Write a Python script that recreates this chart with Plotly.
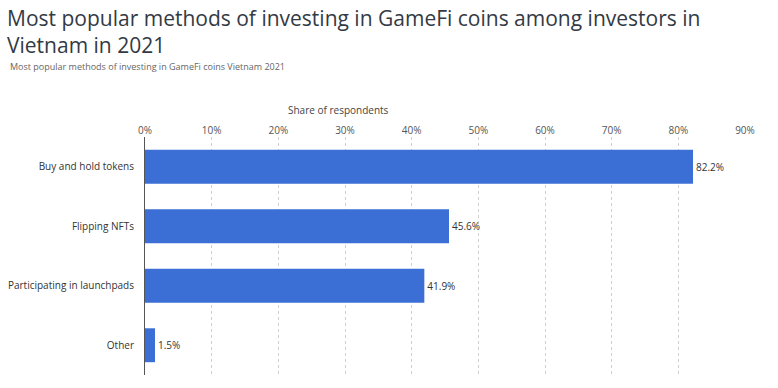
import plotly.graph_objects as go

categories = ["Buy and hold tokens", "Flipping NFTs", "Participating in launchpads", "Other"]
values = [82.2, 45.6, 41.9, 1.5]
tick_vals = [0, 10, 20, 30, 40, 50, 60, 70, 80, 90]
tick_text = ["0%", "10%", "20%", "30%", "40%", "50%", "60%", "70%", "80%", "90%"]

FW, FH = 778, 388
L, R, T, B = 145, FW - 745, 137, FH - 375
H = FH - T - B
W = FW - L - R


def px(xs):
    return (xs - L) / W


def py(ys):
    return 1 + (T - ys) / H


fig = go.Figure(go.Bar(
    x=values, y=categories, orientation="h",
    marker=dict(color="#3b6fd6", line=dict(width=0)),
    text=[f"{v}%" for v in values], textposition="outside",
    textfont=dict(size=10, color="#333333", family="Open Sans"),
    cliponaxis=False, width=0.57,
))

fig.update_layout(
    width=FW, height=FH,
    margin=dict(l=L, r=R, t=T, b=B, autoexpand=False),
    paper_bgcolor="white", plot_bgcolor="white",
    font=dict(family="Open Sans", color="#333333"),
    showlegend=False,
    xaxis=dict(
        side="top", range=[0, 90], tickvals=tick_vals, ticktext=tick_text,
        showgrid=True, gridcolor="#d0d0d0", griddash="dot", gridwidth=1,
        zeroline=False, showline=False, ticks="", automargin=False,
        tickfont=dict(size=10, color="#555555"),
    ),
    yaxis=dict(
        autorange="reversed", showline=True, linecolor="#555555", linewidth=1,
        ticks="", ticklabelstandoff=8, automargin=False,
        tickfont=dict(size=10, color="#333333"),
    ),
    annotations=[
        dict(text="Most popular methods of investing in GameFi coins among investors in<br>Vietnam in 2021",
             xref="paper", yref="paper", x=px(6), y=py(3),
             xanchor="left", yanchor="top", align="left", showarrow=False, borderpad=0,
             font=dict(size=21, color="#333a44", family="Open Sans")),
        dict(text="Most popular methods of investing in GameFi coins Vietnam 2021",
             xref="paper", yref="paper", x=px(8), y=py(67),
             xanchor="left", yanchor="middle", showarrow=False,
             font=dict(size=9, color="#666666")),
        dict(text="Share of respondents",
             xref="paper", yref="paper", x=px(338), y=py(110),
             xanchor="center", yanchor="middle", showarrow=False,
             font=dict(size=10, color="#444444")),
    ],
)

fig.write_html(
    "out.html",
    config={"displayModeBar": False},
    post_script="document.body.style.margin='0';document.body.style.overflow='hidden';",
)
